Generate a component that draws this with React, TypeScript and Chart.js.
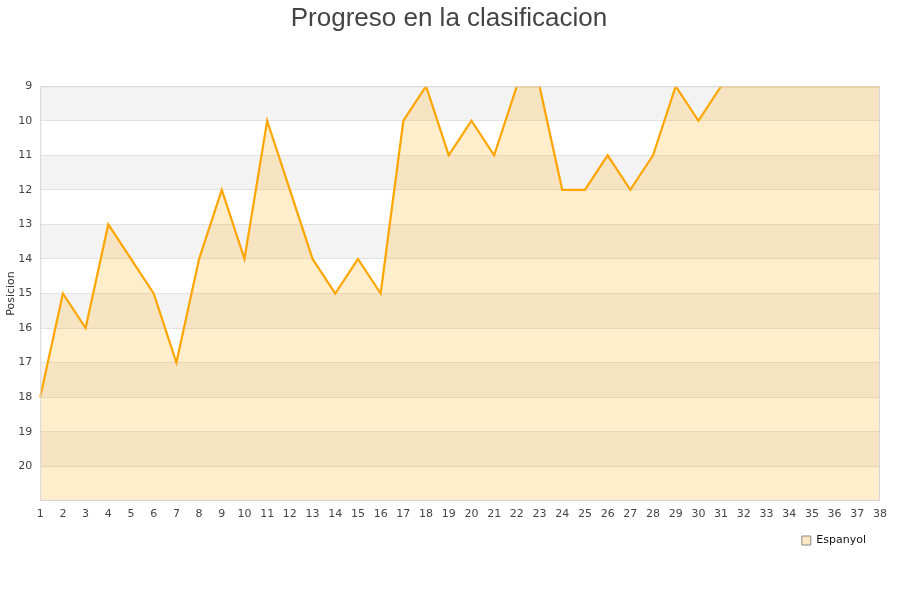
import React, { useEffect, useRef } from "react";
import Chart from "chart.js/auto";

// Jornadas y posiciones del Espanyol
const jornadas = Array.from({ length: 38 }, (_, i) => String(i + 1));
const posiciones = [
  18, 15, 16, 13, 14, 15, 17, 14, 12, 14, 10, 12, 14, 15, 14, 15, 10, 9, 11, 10,
  11, 9, 9, 12, 12, 11, 12, 11, 9, 10, 9, 9, 9, 9, 9, 9, 9, 9,
];
const equipo = "Espanyol";
const posicionMin = 9;
const posicionMax = 21;

// Bandas alternas grises + borde del area
const bandasPlugin = {
  id: "bandas",
  afterLayout(chart: any) {
    // leyenda un poco mas a la izquierda y abajo, titulo centrado en el lienzo
    if (chart.legend) {
      chart.legend.right -= 9;
      chart.legend.top += 2;
      chart.legend.bottom += 2;
    }
    if (chart.titleBlock) chart.titleBlock.right += 18;
  },
  beforeDraw(chart: any) {
    const { ctx, chartArea, scales } = chart;
    const y = scales.y;
    ctx.save();
    ctx.fillStyle = "#f3f3f3";
    for (let v = posicionMin; v < posicionMax; v += 2) {
      const top = y.getPixelForValue(v);
      const bottom = y.getPixelForValue(v + 1);
      ctx.fillRect(chartArea.left, top, chartArea.right - chartArea.left, bottom - top);
    }
    ctx.restore();
  },
  afterDraw(chart: any) {
    const { ctx, chartArea } = chart;
    ctx.save();
    ctx.strokeStyle = "#d6d6d6";
    ctx.lineWidth = 1;
    ctx.strokeRect(
      chartArea.left + 0.5,
      chartArea.top + 0.5,
      chartArea.right - chartArea.left - 1,
      chartArea.bottom - chartArea.top - 1
    );
    ctx.restore();
  },
};

const App: React.FC = () => {
  const chartRef = useRef<HTMLCanvasElement>(null);
  const chartInstanceRef = useRef<Chart | null>(null);

  useEffect(() => {
    document.body.style.margin = "0";
    if (!chartRef.current) return;
    const ctx = chartRef.current.getContext("2d");
    if (!ctx) return;

    chartInstanceRef.current = new Chart(ctx, {
      type: "line",
      data: {
        labels: jornadas,
        datasets: [
          {
            label: equipo,
            data: posiciones,
            borderColor: "#ffa500",
            backgroundColor: "rgba(255,165,0,0.2)",
            borderWidth: 2.2,
            pointRadius: 0,
            tension: 0,
            fill: { value: posicionMax },
          },
        ],
      },
      options: {
        animation: false,
        responsive: false,
        layout: { padding: { left: 0, right: 20, bottom: 46, top: 0 } },
        plugins: {
          title: {
            display: true,
            text: "Progreso en la clasificacion",
            color: "#444",
            font: { family: "Liberation Sans", size: 26, weight: "normal" },
            padding: { top: 3, bottom: 52 },
          },
          legend: {
            position: "bottom",
            align: "end",
            labels: {
              boxWidth: 9,
              boxHeight: 9,
              padding: 5,
              color: "#111",
              font: { family: "DejaVu Sans", size: 11 },
              generateLabels: (chart: any) =>
                Chart.defaults.plugins.legend.labels
                  .generateLabels(chart)
                  .map((item: any) => ({
                    ...item,
                    fillStyle: "#ffe9c4",
                    strokeStyle: "#888",
                    lineWidth: 1,
                  })),
            },
          },
          tooltip: { enabled: false },
        },
        scales: {
          x: {
            offset: false,
            grid: { display: false, drawTicks: false },
            border: { display: false },
            ticks: {
              color: "#444",
              font: { family: "DejaVu Sans", size: 11 },
              padding: 7,
              maxRotation: 0,
              autoSkip: false,
            },
          },
          y: {
            reverse: true,
            min: posicionMin,
            max: posicionMax,
            grid: { color: "#e2e2e2", drawTicks: false },
            border: { display: false },
            title: {
              display: true,
              text: "Posicion",
              color: "#333",
              font: { family: "DejaVu Sans", size: 11 },
              padding: { top: 5, bottom: -8 },
            },
            ticks: {
              stepSize: 1,
              color: "#444",
              font: { family: "DejaVu Sans", size: 11 },
              padding: 8,
              callback: (v: any) => (v >= posicionMax ? "" : String(v)),
            },
          },
        },
      },
      plugins: [bandasPlugin],
    });

    return () => {
      if (chartInstanceRef.current) {
        chartInstanceRef.current.destroy();
        chartInstanceRef.current = null;
      }
    };
  }, []);

  return (
    <div style={{ width: 900, height: 600 }}>
      <canvas ref={chartRef} width={900} height={600} />
    </div>
  );
};

export default App;
